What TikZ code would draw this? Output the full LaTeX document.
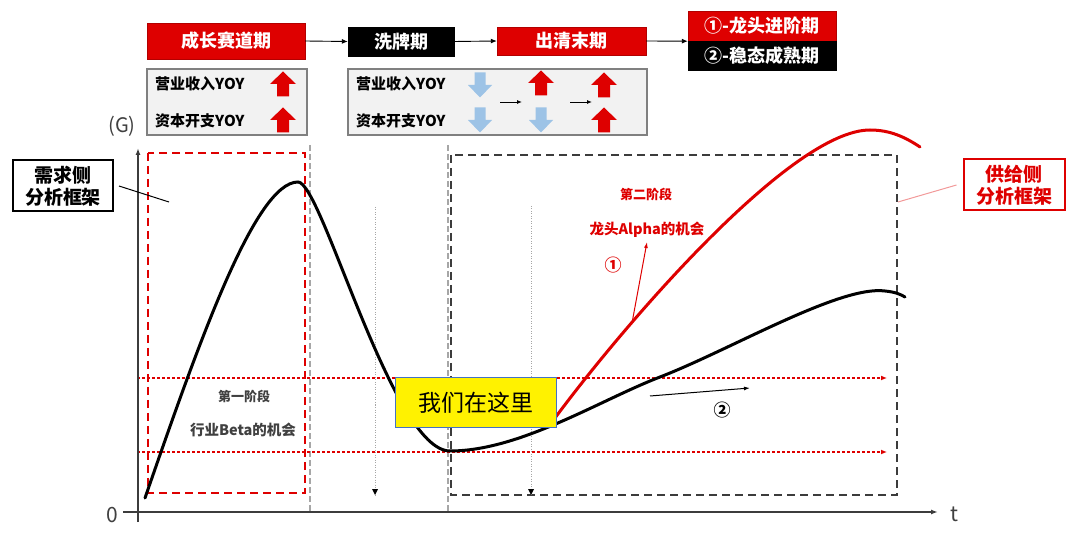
\documentclass[tikz,border=0pt]{standalone}
\usepackage{fontspec}
\setmainfont{Noto Sans CJK SC}
\usetikzlibrary{arrows.meta}
\definecolor{myred}{RGB}{222,0,0}
\definecolor{myblue}{RGB}{157,195,230}
\definecolor{boxgray}{RGB}{242,242,242}
\definecolor{edgegray}{RGB}{128,128,128}
\definecolor{darktext}{RGB}{64,64,64}
\definecolor{axisgray}{RGB}{60,60,60}
\definecolor{framebl}{RGB}{68,114,196}
\begin{document}
\begin{tikzpicture}[x=1pt,y=-1pt,
  redbox/.style={fill=myred,draw=myred!80!black,line width=0.4pt,text=white,font=\fontsize{18}{20}\selectfont\bfseries,inner sep=0pt},
  blkbox/.style={fill=black,draw=black,text=white,font=\fontsize{18}{20}\selectfont\bfseries,inner sep=0pt},
  graybox/.style={fill=boxgray,draw=edgegray,line width=1.2pt},
  yoytext/.style={anchor=west,font=\fontsize{15}{17}\selectfont\bfseries,text=black,inner sep=0pt},
  flowarrow/.style={-{Latex[length=6pt,width=5pt]},line width=0.9pt,black},
  upred/.pic={\fill[myred] (-13,0) -- (0,-12.5) -- (13,0) -- (6,0) -- (6,12.5) -- (-6,12.5) -- (-6,0) -- cycle;},
  downblue/.pic={\fill[myblue] (-12,0) -- (0,12.5) -- (12,0) -- (5.5,0) -- (5.5,-12.5) -- (-5.5,-12.5) -- (-5.5,0) -- cycle;},
  reddotted/.style={draw=myred,line width=1.4pt,dash pattern=on 3pt off 2pt,-{Latex[length=6pt,width=5pt]}},
  graydash/.style={gray!70,line width=1.3pt,dash pattern=on 6pt off 3pt},
  graydot/.style={gray!70,line width=0.9pt,dash pattern=on 1pt off 1.5pt},
  sidebox/.style={draw,line width=2pt,font=\fontsize{19}{22}\selectfont\bfseries,align=center,inner sep=0pt}
]
\useasboundingbox (0,0) rectangle (1080,537);

% ---------- top flow ----------
\node[redbox,minimum width=158pt,minimum height=36pt] (b1) at (226,41) {成长赛道期};
\node[blkbox,minimum width=106pt,minimum height=29pt] (b2) at (401,41.5) {洗牌期};
\node[redbox,minimum width=149pt,minimum height=28pt] (b3) at (571.5,41) {出清末期};
\node[redbox,minimum width=148pt,minimum height=30pt] (b4a) at (762,26) {①-龙头进阶期};
\node[blkbox,minimum width=148pt,minimum height=29pt] (b4b) at (762,55.5) {②-稳态成熟期};
\draw[flowarrow] (b1.east) -- (b2.west);
\draw[flowarrow] (b2.east) -- (b3.west);
\draw[flowarrow] (b3.east) -- (b4a.south west);

% ---------- gray indicator boxes ----------
\node[graybox,minimum width=160pt,minimum height=66pt,inner sep=0pt] (g1) at (227,102) {};
\node[graybox,minimum width=299pt,minimum height=66pt,inner sep=0pt] (g2) at (497.5,102) {};
\node[yoytext] (t1a) at (155,84) {营业收入YOY};
\node[yoytext] (t1b) at (155,121) {资本开支YOY};
\node[yoytext] (t2a) at (356,84) {营业收入YOY};
\node[yoytext] (t2b) at (356,121) {资本开支YOY};
\pic at (283,84) {upred};
\pic at (283,120) {upred};
\pic at (480,85) {downblue};
\pic at (480,120) {downblue};
\pic at (541,83) {upred};
\pic at (541,120) {downblue};
\pic at (604,85) {upred};
\pic at (604,120) {upred};
\coordinate (s1a) at (500,102); \coordinate (s1b) at (522,102);
\coordinate (s2a) at (570,102); \coordinate (s2b) at (592,102);
\draw[-{Latex[length=5pt,width=4pt]},line width=0.9pt] (s1a) -- (s1b);
\draw[-{Latex[length=5pt,width=4pt]},line width=0.9pt] (s2a) -- (s2b);

% ---------- frames ----------
\draw[myred,line width=2pt,dash pattern=on 8pt off 5pt] (148,153) rectangle (305,493);
\draw[axisgray,line width=2pt,dash pattern=on 8pt off 5pt] (451,155) rectangle (897,495);
\coordinate (v1t) at (310,145); \coordinate (v1b) at (310,512);
\coordinate (v2t) at (448,145); \coordinate (v2b) at (448,512);
\draw[graydash] (v1t) -- (v1b);
\draw[graydash] (v2t) -- (v2b);
\coordinate (d1t) at (375,207); \coordinate (d1b) at (375,495);
\coordinate (d2t) at (531,206); \coordinate (d2b) at (531,495);
\draw[graydot] (d1t) -- (d1b);
\draw[graydot] (d2t) -- (d2b);
\fill[black] (d1b) -- ++(-3,-6) -- ++(6,0) -- cycle;
\fill[black] (d2b) -- ++(-3,-6) -- ++(6,0) -- cycle;

% red dotted horizontal arrows
\coordinate (h1a) at (137,378); \coordinate (h1b) at (887,378);
\coordinate (h2a) at (137,452); \coordinate (h2b) at (887,452);
\draw[reddotted] (h1a) -- (h1b);
\draw[reddotted] (h2a) -- (h2b);

% ---------- axes ----------
\coordinate (o) at (138,512);
\coordinate (ybot) at (138,522); \coordinate (ytop) at (138,148);
\coordinate (xleft) at (123,512); \coordinate (xright) at (938,512);
\draw[axisgray,line width=2pt,-{Latex[length=7pt,width=5pt]}] (ybot) -- (ytop);
\draw[axisgray,line width=2pt,-{Latex[length=7pt,width=5pt]}] (xleft) -- (xright);
\node[font=\fontsize{21}{24}\selectfont,text=darktext] (zero) at (112,515) {0};
\node[font=\fontsize{21}{24}\selectfont,text=darktext] (tlab) at (954,514) {t};
\node[font=\fontsize{20}{22}\selectfont,text=darktext] (G) at (122,126) {(G)};

% ---------- curves ----------
\draw[black,line width=3pt,line cap=round]
  (145,498) .. controls (198,345) and (255,182) .. (298,182)
  .. controls (322,182) and (392,451) .. (450,451)
  .. controls (520,451) and (600,400) .. (660,377)
  .. controls (730,350) and (840,285) .. (885,291)
  .. controls (895,292) and (900,294) .. (905,297);
\draw[myred,line width=3pt,line cap=round]
  (555,418) .. controls (620,330) and (790,130) .. (870,130)
  .. controls (890,130) and (905,137) .. (920,147);

% ---------- yellow box ----------
\node[fill=yellow,draw=framebl,line width=1.5pt,minimum width=161pt,minimum height=50pt,inner sep=0pt,
      font=\fontsize{23}{26}\selectfont] (here) at (476,402.5) {我们在这里};

% ---------- stage labels ----------
\node[font=\fontsize{13}{15}\selectfont\bfseries,text=darktext] (s1) at (244,396) {第一阶段};
\node[font=\fontsize{14.5}{16}\selectfont\bfseries,text=darktext] (s1b) at (243,430) {行业Beta的机会};
\node[font=\fontsize{13}{15}\selectfont\bfseries,text=myred] (s2) at (646,194) {第二阶段};
\node[font=\fontsize{14.5}{16}\selectfont\bfseries,text=myred] (s2b) at (647,230) {龙头Alpha的机会};
\node[font=\fontsize{17}{19}\selectfont\bfseries,text=myred] (n1) at (613,265) {①};
\node[font=\fontsize{17}{19}\selectfont\bfseries,text=black] (n2) at (722,410) {②};
\coordinate (a1s) at (632,323); \coordinate (a1e) at (647,242);
\draw[myred,line width=1pt,-{Latex[length=6pt,width=4pt]}] (a1s) -- (a1e);
\coordinate (a2s) at (650,396); \coordinate (a2e) at (750,388);
\draw[black,line width=1pt,-{Latex[length=6pt,width=4pt]}] (a2s) -- (a2e);

% ---------- side boxes ----------
\node[sidebox,draw=black,text=black,minimum width=100pt,minimum height=51pt] (dem) at (63,186) {需求侧\\分析框架};
\node[sidebox,draw=myred,text=myred,minimum width=101pt,minimum height=51pt] (sup) at (1014,185) {供给侧\\分析框架};
\coordinate (demend) at (169,202);
\draw[black,line width=1pt] ([xshift=5pt]dem.east) -- (demend);
\coordinate (supend) at (898,202);
\draw[myred!40,line width=1pt] ([xshift=-6pt]sup.west) -- (supend);
\end{tikzpicture}
\end{document}
